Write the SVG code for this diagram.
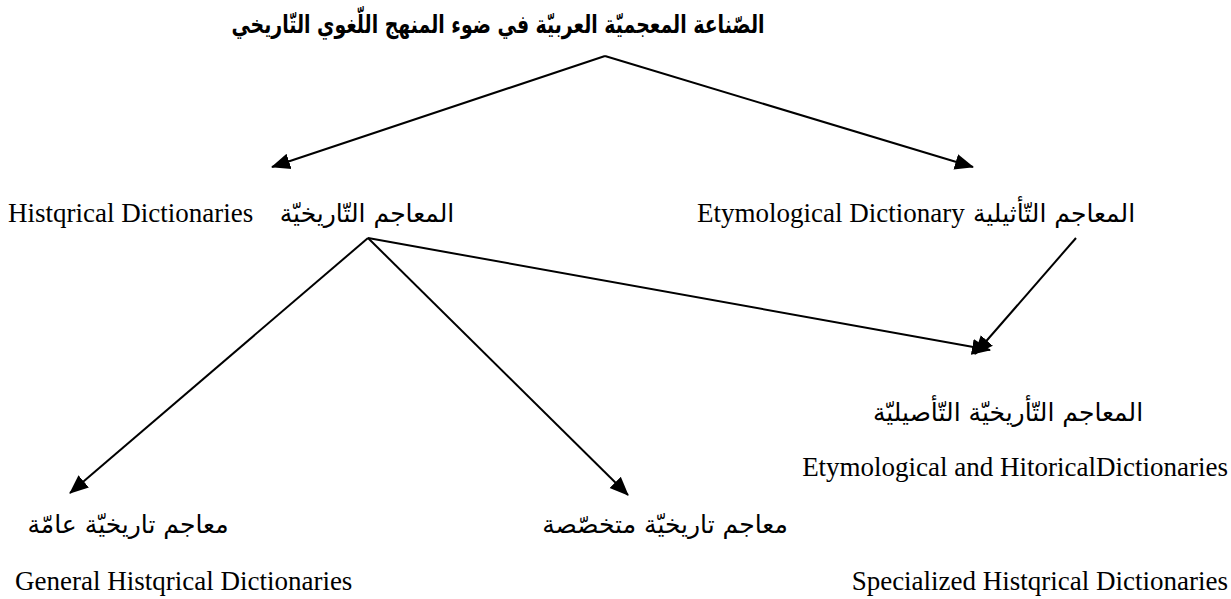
<svg xmlns="http://www.w3.org/2000/svg" width="1231" height="599" viewBox="0 0 1231 599">
  <style>
    .ar { font-family: "DejaVu Sans", "Noto Sans", sans-serif; font-size: 25px; fill: #000; text-anchor: middle; }
    .arb { font-weight: bold; }
    .en { font-family: "Liberation Serif", "Times New Roman", serif; font-size: 27px; fill: #000; }
    .edge { stroke: #000; stroke-width: 2; fill: none; marker-end: url(#head); }
  </style>
  <defs>
    <marker id="head" markerUnits="userSpaceOnUse" markerWidth="20" markerHeight="18" refX="18" refY="9" orient="auto">
      <path d="M0,1 L19,9 L0,17 Z" fill="#000"/>
    </marker>
  </defs>
  <rect width="1231" height="599" fill="#fff"/>

  <g id="title">
    <text class="ar arb" x="498" y="33" font-size="23" direction="rtl" textLength="533" lengthAdjust="spacingAndGlyphs">الصّناعة المعجميّة العربيّة في ضوء المنهج اللّغوي التّاريخي</text>
  </g>

  <g id="historical">
    <text class="en" x="8" y="222">Histqrical Dictionaries</text>
    <text class="ar" x="367" y="222" direction="rtl">المعاجم التّاريخيّة</text>
  </g>

  <g id="etymological">
    <text class="en" x="697" y="222" font-size="26">Etymological Dictionary</text>
    <text class="ar" x="1054" y="222" font-size="24" direction="rtl">المعاجم التّأثيلية</text>
  </g>

  <g id="etymological-historical">
    <text class="ar" x="1008" y="421" direction="rtl">المعاجم التّأريخيّة التّأصيليّة</text>
    <text class="en" x="1228" y="476" text-anchor="end" font-size="26">Etymological and HitoricalDictionaries</text>
  </g>

  <g id="general">
    <text class="ar" x="128" y="533" direction="rtl">معاجم تاريخيّة عامّة</text>
    <text class="en" x="15" y="590">General Histqrical Dictionaries</text>
  </g>

  <g id="specialized">
    <text class="ar" x="665" y="533" direction="rtl">معاجم تاريخيّة متخصّصة</text>
    <text class="en" x="1228" y="590" text-anchor="end">Specialized Histqrical Dictionaries</text>
  </g>

  <g id="connectors">
    <line class="edge" x1="605" y1="56" x2="272" y2="167"/>
    <line class="edge" x1="605" y1="56" x2="973" y2="167"/>
    <line class="edge" x1="368" y1="238" x2="70" y2="493"/>
    <line class="edge" x1="368" y1="238" x2="628" y2="495"/>
    <line class="edge" x1="368" y1="238" x2="990" y2="350"/>
    <line class="edge" x1="1076" y1="238" x2="975" y2="354"/>
  </g>
</svg>
